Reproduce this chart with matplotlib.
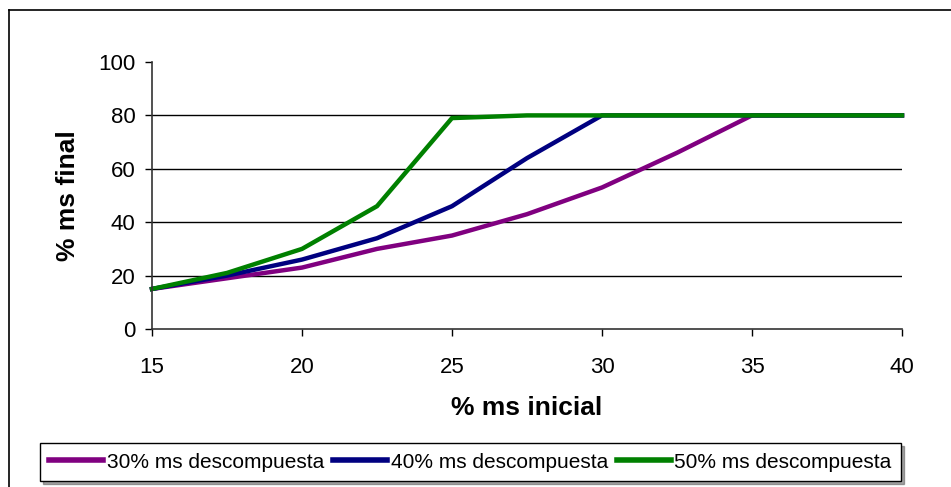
import matplotlib.pyplot as plt
from matplotlib.lines import Line2D

plt.rcParams['font.family'] = ['Liberation Sans', 'DejaVu Sans']

ms_inicial = [15, 17.5, 20, 22.5, 25, 27.5, 30, 32.5, 35, 37.5, 40]
ms_30 = [15, 19, 23, 30, 35, 43, 53, 66, 80, 80, 80]
ms_40 = [15, 20, 26, 34, 46, 64, 80, 80, 80, 80, 80]
ms_50 = [15, 21, 30, 46, 79, 80, 80, 80, 80, 80, 80]

series = [
    ("30% ms descompuesta", ms_30, "#800080"),
    ("40% ms descompuesta", ms_40, "#000080"),
    ("50% ms descompuesta", ms_50, "#008000"),
]

fig = plt.figure(figsize=(9.51, 4.87), dpi=100)
W, H = 951, 487
ax = fig.add_axes([152 / W, 1 - 329 / H, 750 / W, 267 / H])

for label, vals, color in series:
    ax.plot(ms_inicial, vals, color=color, lw=3.2, label=label,
            solid_joinstyle='miter', clip_on=False)

ax.set_xlim(15, 40)
ax.set_ylim(0, 100)
ax.set_xticks([15, 20, 25, 30, 35, 40])
ax.set_yticks([0, 20, 40, 60, 80, 100])
for y in [20, 40, 60, 80]:
    ax.axhline(y, color='black', lw=1, zorder=0)

ax.spines['top'].set_visible(False)
ax.spines['right'].set_visible(False)
for side in ['left', 'bottom']:
    ax.spines[side].set_color('#333333')
    ax.spines[side].set_linewidth(1.2)
ax.tick_params(direction='out', length=5, width=1, labelsize=16)
ax.tick_params(axis='x', pad=15)
ax.tick_params(axis='y', pad=7)

ax.set_xlabel("% ms inicial", fontsize=19, fontweight='bold', va='center')
ax.set_ylabel("% ms final", fontsize=19, fontweight='bold', va='center')
ax.xaxis.set_label_coords(0.5, (329 - 408) / 267)
ax.yaxis.set_label_coords((68 - 152) / 750, 0.5)

leg = fig.legend(loc='center', bbox_to_anchor=(470.5 / W, 1 - 462 / H),
                 ncol=3, fontsize=15, frameon=True, fancybox=False,
                 shadow=True, handlelength=2.6, handletextpad=0.15,
                 columnspacing=0.45, borderpad=0.45, borderaxespad=0)
leg.get_frame().set_edgecolor('black')
leg.get_frame().set_linewidth(1)
for h in leg.get_lines():
    h.set_linewidth(4)

# outer chart border (left and top edges visible)
fig.add_artist(Line2D([9 / W, 9 / W], [0, 1 - 10 / H], color='black', lw=1.2))
fig.add_artist(Line2D([9 / W, 1], [1 - 10 / H, 1 - 10 / H], color='black', lw=1.2))

fig.savefig("out.png", dpi=100)
